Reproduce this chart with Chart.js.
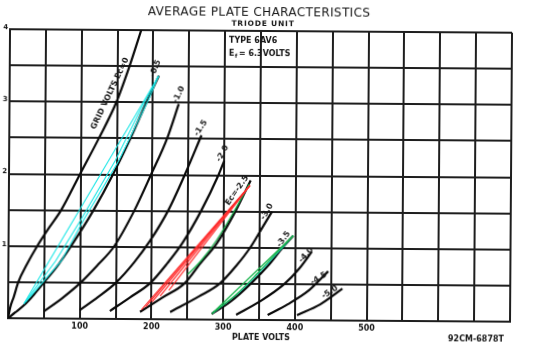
<!DOCTYPE html>
<html><head><meta charset="utf-8">
<script src="https://cdn.jsdelivr.net/npm/chart.js@4.4.1/dist/chart.umd.min.js"></script>
<style>
html,body{margin:0;padding:0;background:#fff;overflow:hidden;}
#wrap{width:534px;height:355px;position:relative;}
#c{display:block;transform:rotate(0.4deg);transform-origin:50% 50%;}
</style></head><body>
<div id="wrap"><canvas id="c" width="534" height="355"></canvas></div>
<script>
// ---- tick labels ----
const plateVoltLabels = [100, 200, 300, 400, 500];
const plateMaLabels = [1, 2, 3, 4];

// ---- grid-voltage curves: [plate volts, plate mA] ----
const ec0   = [[0,0],[3,0.15],[8,0.3],[14,0.5],[26,0.75],[40,1.0],[56,1.25],[73,1.5],[99,2.0],[125,2.5],[149,3.0],[167,3.5],[183,4.0]];
const ecM05 = [[0,0],[10,0.08],[22,0.18],[36,0.33],[50,0.5],[70,0.75],[87,1.0],[118,1.5],[145,2.0],[169,2.5],[191,3.0],[208,3.37]];
const ecM10 = [[50,0.1],[75,0.28],[101,0.5],[125,0.75],[147,1.0],[175,1.5],[198,2.0],[220,2.5],[236,2.98]];
const ecM15 = [[100,0.12],[125,0.3],[150,0.5],[175,0.78],[197,1.08],[222,1.5],[245,2.0],[268,2.55]];
const ecM20 = [[142,0.11],[170,0.3],[198,0.5],[222,0.78],[242,1.05],[268,1.5],[292,2.0],[300,2.2]];
const ecM25 = [[184,0.1],[215,0.3],[246,0.5],[268,0.78],[290,1.05],[316,1.5],[337,1.93]];
const ecM30 = [[226,0.1],[266,0.32],[295,0.5],[318,0.75],[337,1.0],[355,1.3],[367,1.5]];
const ecM35 = [[284,0.08],[310,0.25],[338,0.5],[362,0.75],[382,1.0],[397,1.17]];
const ecM40 = [[318,0.07],[350,0.25],[385,0.5],[406,0.72],[423,0.95]];
const ecM45 = [[362,0.07],[390,0.22],[420,0.42],[446,0.68]];
const ecM50 = [[403,0.07],[435,0.22],[466,0.44]];
const gridCurves = [ec0, ecM05, ecM10, ecM15, ecM20, ecM25, ecM30, ecM35, ecM40, ecM45, ecM50];
const gridLabels = ['GRID VOLTS Ec=0','-0.5','-1.0','-1.5','-2.0','Ec=-2.5','-3.0','-3.5','-4.0','-4.5','-5.0'];

// ---- hand-drawn coloured traces ----
const cyanB1 = [[22,0.2],[208,3.37]];
const cyanB2 = [[22,0.2],[66,0.8],[100,1.36],[148,2.19],[189,3.02],[207,3.36]];
const cyanB3 = [[24,0.22],[74,0.8],[104,1.36],[153,2.19],[193,3.02],[207,3.36]];
const red1 = [[186,0.13],[336,1.86]];
const red2 = [[192,0.17],[336,1.86]];
const red3 = [[201,0.24],[336,1.86]];
const red4 = [[212,0.32],[336,1.86]];
const red5 = [[224,0.40],[336,1.86]];
const greenF = [[250,0.62],[269,0.82],[290,1.1],[313,1.48],[335,1.88]];
const greenH1 = [[284,0.08],[397,1.17]];
const greenH2 = [[286,0.1],[318,0.35],[348,0.65],[376,0.95],[397,1.17]];
const cyanH  = [[285,0.09],[322,0.38],[352,0.68],[379,0.97],[397,1.17]];

// label anchors (plate volts, mA, angle deg)
const gridLabelAnchor = [[140,3.12,65],[203,3.47,68],[236,3.11,64],[267,2.65,58],[297.5,2.3,62],[318,1.79,55],[360,1.5,60],[383.5,1.12,55],[415,0.9,47],[433,0.58,32],[448.5,0.39,33]];

const INK = '#161616';
const toXY = a => a.map(([x,y]) => ({x, y}));

const datasets = [];
function addTrace(pts, color, width, smooth, order){
  datasets.push({data: toXY(pts), borderColor: color, borderWidth: width, pointRadius: 0,
    fill: false, tension: 0, order, cubicInterpolationMode: smooth ? 'monotone' : 'default'});
}
[cyanB1, cyanB2, cyanB3].forEach(p => addTrace(p, '#19e6e6', 1.1, false, 1));
[red1, red2, red3, red4, red5].forEach(p => addTrace(p, '#ff2a2a', 1.1, false, 1));
addTrace(greenF, '#17b24a', 1.2, true, 1);
addTrace(greenH1, '#17b24a', 1.2, false, 1);
addTrace(greenH2, '#17b24a', 1.2, true, 1);
addTrace(cyanH, '#19e6e6', 1.1, true, 1);
gridCurves.forEach(p => addTrace(p, '#0a0a0a', 2.2, true, 2));

const textPlugin = {
  id: 'texts',
  afterDraw(chart){
    const {ctx} = chart; const sx = chart.scales.x, sy = chart.scales.y;
    ctx.save();
    ctx.fillStyle = INK; ctx.textAlign = 'center'; ctx.textBaseline = 'middle';
    ctx.font = '12px "DejaVu Sans"';
    ctx.letterSpacing = '0.4px';
    ctx.fillText('AVERAGE PLATE CHARACTERISTICS', 258, 13);
    ctx.font = 'bold 7.5px "DejaVu Sans"';
    ctx.letterSpacing = '0.8px';
    ctx.fillText('TRIODE UNIT', 262, 24);
    ctx.letterSpacing = '0px';
    ctx.textAlign = 'left';
    ctx.font = 'bold 8px "DejaVu Sans"';
    ctx.fillText('TYPE 6AV6', 228, 41);
    ctx.fillText('E', 228, 54);
    ctx.font = 'bold 5.5px "DejaVu Sans"';
    ctx.fillText('f', 234, 57);
    ctx.font = 'bold 8px "DejaVu Sans"';
    ctx.fillText('= 6.3VOLTS', 238, 54);
    ctx.textAlign = 'center';
    ctx.font = 'bold 8px "DejaVu Sans"';
    ctx.fillText('PLATE VOLTS', 262, 338);
    ctx.fillText('92CM-6878T', 477, 338);
    ctx.font = 'bold 8px "DejaVu Sans"';
    gridLabels.forEach((t, i) => {
      const [v, ma, ang] = gridLabelAnchor[i];
      ctx.save();
      ctx.translate(sx.getPixelForValue(v), sy.getPixelForValue(ma));
      ctx.rotate(-ang * Math.PI / 180);
      ctx.fillText(t, 0, 0);
      ctx.restore();
    });
    ctx.restore();
  }
};

new Chart(document.getElementById('c'), {
  type: 'line',
  data: {datasets},
  options: {
    responsive: false, animation: false, devicePixelRatio: 1, events: [],
    layout: {padding: {left: 0, right: 23, top: 31, bottom: 0}},
    plugins: {legend: {display: false}, tooltip: {enabled: false}},
    scales: {
      x: {type: 'linear', min: 0, max: 700,
        afterFit: s => { s.height = 35; },
        ticks: {stepSize: 50, autoSkip: false, maxRotation: 0, padding: 3, color: INK,
          font: {family: 'DejaVu Sans', size: 8, weight: 'bold'},
          callback: v => plateVoltLabels.includes(v) ? String(v) : ''},
        grid: {color: '#1e1e1e', lineWidth: 2, drawTicks: false},
        border: {color: '#1e1e1e', width: 2}},
      y: {type: 'linear', min: 0, max: 4,
        afterFit: s => { s.width = 9; },
        ticks: {stepSize: 0.5, autoSkip: false, padding: 2, labelOffset: -2, color: INK,
          font: {family: 'DejaVu Sans', size: 7, weight: 'bold'},
          callback: v => plateMaLabels.includes(v) ? String(v) : ''},
        grid: {color: '#1e1e1e', lineWidth: 2, drawTicks: false},
        border: {color: '#1e1e1e', width: 2}}
    }
  },
  plugins: [textPlugin]
});
</script>
</body></html>
